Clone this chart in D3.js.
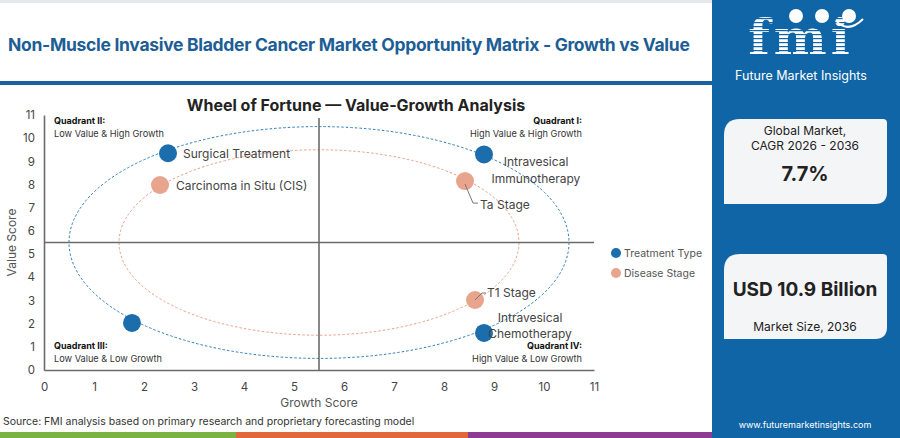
<!DOCTYPE html>
<html>
<head>
<meta charset="utf-8">
<script src="https://cdn.jsdelivr.net/npm/d3@7"></script>
<style>
  body { margin: 0; background: #fff; }
  svg { display: block; font-family: "Inter", "Open Sans", sans-serif; }
</style>
</head>
<body>
<svg width="900" height="438"></svg>
<script>
// DATA
const seriesNames = ["Treatment Type", "Disease Stage"];
const treatmentNames = ["Surgical Treatment", "Intravesical Immunotherapy", "", "Intravesical Chemotherapy"];
const treatmentGrowth = [2.48, 8.8, 1.76, 8.8];
const treatmentValue = [9.35, 9.3, 2.03, 1.6];
const stageNames = ["Carcinoma in Situ (CIS)", "Ta Stage", "T1 Stage"];
const stageGrowth = [2.32, 8.42, 8.62];
const stageValue = [7.98, 8.15, 3.02];
const axisTicks = d3.range(0, 12);
const quadrantTitles = ["Quadrant I:", "Quadrant II:", "Quadrant III:", "Quadrant IV:"];
const quadrantTexts = ["High Value & High Growth", "Low Value & High Growth", "Low Value & Low Growth", "High Value & Low Growth"];
const ringRadius = [5, 4]; // treatment ring, stage ring (score units)
const midScore = 5.5;

const svg = d3.select("svg");
const colors = { treat: "#1b6dab", stage: "#e9a48d", panel: "#0f65a6", title: "#1c5e95" };

// SCALES
const x = d3.scaleLinear().domain([0, 11]).range([44, 594]);
const y = d3.scaleLinear().domain([0, 11]).range([370, 115]);

// header
svg.append("rect").attr("width", 712).attr("height", 3).attr("fill", "#e6e8ea");
svg.append("text").attr("x", 8).attr("y", 51)
  .attr("font-size", 17.5).attr("font-weight", 700).attr("fill", colors.title)
  .attr("letter-spacing", -0.3)
  .text("Non-Muscle Invasive Bladder Cancer Market Opportunity Matrix - Growth vs Value");
svg.append("rect").attr("x", 0).attr("y", 81).attr("width", 712).attr("height", 4).attr("fill", "#1a62a0");

svg.append("text").attr("x", 356).attr("y", 111).attr("text-anchor", "middle")
  .attr("font-size", 16).attr("font-weight", 700).attr("fill", "#222")
  .text("Wheel of Fortune \u2014 Value-Growth Analysis");

// rings
const rings = svg.append("g");
[[ringRadius[0], "#2b7bb9"], [ringRadius[1], "#ec9e84"]].forEach(([r, c]) => {
  rings.append("ellipse")
    .attr("cx", x(midScore)).attr("cy", y(midScore))
    .attr("rx", x(midScore + r) - x(midScore)).attr("ry", y(midScore) - y(midScore + r))
    .attr("fill", "none").attr("stroke", c).attr("stroke-width", 1).attr("stroke-dasharray", "2.5,2");
});

// axes
const gx = svg.append("g").attr("transform", `translate(0,${y(0)})`)
  .call(d3.axisBottom(x).tickValues(axisTicks).tickSize(0).tickPadding(13));
const gy = svg.append("g").attr("transform", `translate(${x(0)},0)`)
  .call(d3.axisLeft(y).tickValues(axisTicks).tickSize(0).tickPadding(9));
[gx, gy].forEach(g => {
  g.select(".domain").attr("stroke", "#6b6b6b").attr("stroke-width", 1.6);
  g.selectAll("text").attr("font-size", 11.5).attr("fill", "#444").attr("font-family", "Inter, sans-serif");
});

// quadrant dividers
svg.append("line").attr("x1", x(midScore)).attr("x2", x(midScore)).attr("y1", 118).attr("y2", y(0))
  .attr("stroke", "#6b6b6b").attr("stroke-width", 1.6);
svg.append("line").attr("x1", x(0)).attr("x2", x(11)).attr("y1", y(midScore)).attr("y2", y(midScore))
  .attr("stroke", "#6b6b6b").attr("stroke-width", 1.6);

svg.append("text").attr("transform", `translate(16,${y(midScore)}) rotate(-90)`)
  .attr("text-anchor", "middle").attr("font-size", 12).attr("fill", "#555").text("Value Score");
svg.append("text").attr("x", x(midScore)).attr("y", 407).attr("text-anchor", "middle")
  .attr("font-size", 12).attr("fill", "#555").text("Growth Score");

// quadrant labels
const qPos = [
  { x: 582, y: 124, a: "end" }, { x: 54, y: 124, a: "start" },
  { x: 54, y: 349, a: "start" }, { x: 582, y: 349, a: "end" }
];
qPos.forEach((p, i) => {
  svg.append("text").attr("x", p.x).attr("y", p.y).attr("text-anchor", p.a)
    .attr("font-size", 9).attr("font-weight", 700).attr("fill", "#111").text(quadrantTitles[i]);
  svg.append("text").attr("x", p.x).attr("y", p.y + 13).attr("text-anchor", p.a)
    .attr("font-size", 9.2).attr("fill", "#333").text(quadrantTexts[i]);
});

// points
const treat = treatmentNames.map((n, i) => ({ name: n, g: treatmentGrowth[i], v: treatmentValue[i] }));
const stage = stageNames.map((n, i) => ({ name: n, g: stageGrowth[i], v: stageValue[i] }));

svg.append("g").selectAll("circle").data(stage).join("circle")
  .attr("cx", d => x(d.g)).attr("cy", d => y(d.v)).attr("r", 9).attr("fill", colors.stage);
svg.append("g").selectAll("circle").data(treat).join("circle")
  .attr("cx", d => x(d.g)).attr("cy", d => y(d.v)).attr("r", 9).attr("fill", colors.treat);

// point labels
const lbl = (tx, ty, s, anchor) => svg.append("text").attr("x", tx).attr("y", ty)
  .attr("text-anchor", anchor || "start").attr("dominant-baseline", "central")
  .attr("font-size", 12).attr("fill", "#444").text(s);

lbl(x(treat[0].g) + 15, y(treat[0].v), treat[0].name);
lbl(x(stage[0].g) + 16, y(stage[0].v), stage[0].name);
lbl(x(treat[1].g) + 52, y(treat[1].v) + 7, "Intravesical", "middle");
lbl(x(treat[1].g) + 52, y(treat[1].v) + 24, "Immunotherapy", "middle");
lbl(x(treat[3].g) + 46, y(treat[3].v) - 15, "Intravesical", "middle");
lbl(x(treat[3].g) + 46, y(treat[3].v) + 1, "Chemotherapy", "middle");

// leader lines for stages
const ta = stage[1], t1 = stage[2];
svg.append("path").attr("d", `M${x(ta.g)},${y(ta.v) + 3}L${x(ta.g) + 8},${y(ta.v) + 22}L${x(ta.g) + 13},${y(ta.v) + 22}`)
  .attr("fill", "none").attr("stroke", "#777").attr("stroke-width", 1);
lbl(x(ta.g) + 15, y(ta.v) + 23, ta.name);
svg.append("path").attr("d", `M${x(t1.g)},${y(t1.v)}L${x(t1.g) + 7},${y(t1.v) - 7}L${x(t1.g) + 11},${y(t1.v) - 7}`)
  .attr("fill", "none").attr("stroke", "#777").attr("stroke-width", 1);
lbl(x(t1.g) + 12, y(t1.v) - 7, t1.name);

// legend
const legend = svg.append("g").attr("transform", "translate(616,253)");
seriesNames.forEach((n, i) => {
  const g = legend.append("g").attr("transform", `translate(0,${i * 20})`);
  g.append("circle").attr("r", 5).attr("fill", i ? colors.stage : colors.treat);
  g.append("text").attr("x", 8).attr("dominant-baseline", "central")
    .attr("font-size", 10.5).attr("fill", "#555").text(n);
});

// source + color strip
svg.append("text").attr("x", 3).attr("y", 425).attr("font-size", 10.5).attr("fill", "#333")
  .text("Source: FMI analysis based on primary research and proprietary forecasting model");
[["#7bb342", 0, 236], ["#e2673a", 236, 468], ["#8e3b94", 468, 712]].forEach(([c, a, b]) =>
  svg.append("rect").attr("x", a).attr("y", 432).attr("width", b - a).attr("height", 6).attr("fill", c));

// right panel
svg.append("rect").attr("x", 712).attr("y", 0).attr("width", 188).attr("height", 438).attr("fill", colors.panel);

// logo
const logo = svg.append("g");
logo.append("text").attr("x", 801).attr("y", 55).attr("text-anchor", "middle")
  .attr("font-family", "DejaVu Serif, serif").attr("font-weight", 700).attr("font-size", 50)
  .attr("letter-spacing", 4).attr("fill", "#fff").text("fmi");
d3.range(18, 58, 4).forEach(yy =>
  logo.append("rect").attr("x", 735).attr("y", yy).attr("width", 135).attr("height", 1.2).attr("fill", colors.panel));
[[796, 16], [822, 16], [849, 16]].forEach(([cx, cy]) =>
  logo.append("circle").attr("cx", cx).attr("cy", cy).attr("r", 7).attr("fill", "#fff"));
logo.append("path").attr("d", "M837,22 Q849,33 863,19").attr("fill", "none").attr("stroke", "#fff").attr("stroke-width", 2);
logo.append("text").attr("x", 801).attr("y", 80).attr("text-anchor", "middle")
  .attr("font-size", 12.5).attr("fill", "#fff").text("Future Market Insights");

// cards
const card = (x0, y0, w, h) => svg.append("path")
  .attr("d", `M${x0},${y0 + 16} Q${x0},${y0} ${x0 + 16},${y0} L${x0 + w - 4},${y0} Q${x0 + w},${y0} ${x0 + w},${y0 + 4}
    L${x0 + w},${y0 + h - 12} Q${x0 + w},${y0 + h} ${x0 + w - 12},${y0 + h} L${x0},${y0 + h} Z`)
  .attr("fill", "#f4f5f7");
card(724, 119, 163, 85);
card(724, 254, 163, 85);
const ct = (ty, s, size, w) => svg.append("text").attr("x", 805).attr("y", ty).attr("text-anchor", "middle")
  .attr("font-size", size).attr("font-weight", w || 400).attr("fill", "#222").text(s);
ct(135, "Global Market,", 12);
ct(150, "CAGR 2026 - 2036", 12);
ct(181, "7.7%", 20, 700);
ct(296, "USD 10.9 Billion", 19, 700);
ct(331, "Market Size, 2036", 12);
svg.append("text").attr("x", 805).attr("y", 428).attr("text-anchor", "middle")
  .attr("font-size", 9).attr("fill", "#fff").text("www.futuremarketinsights.com");
</script>
</body>
</html>
